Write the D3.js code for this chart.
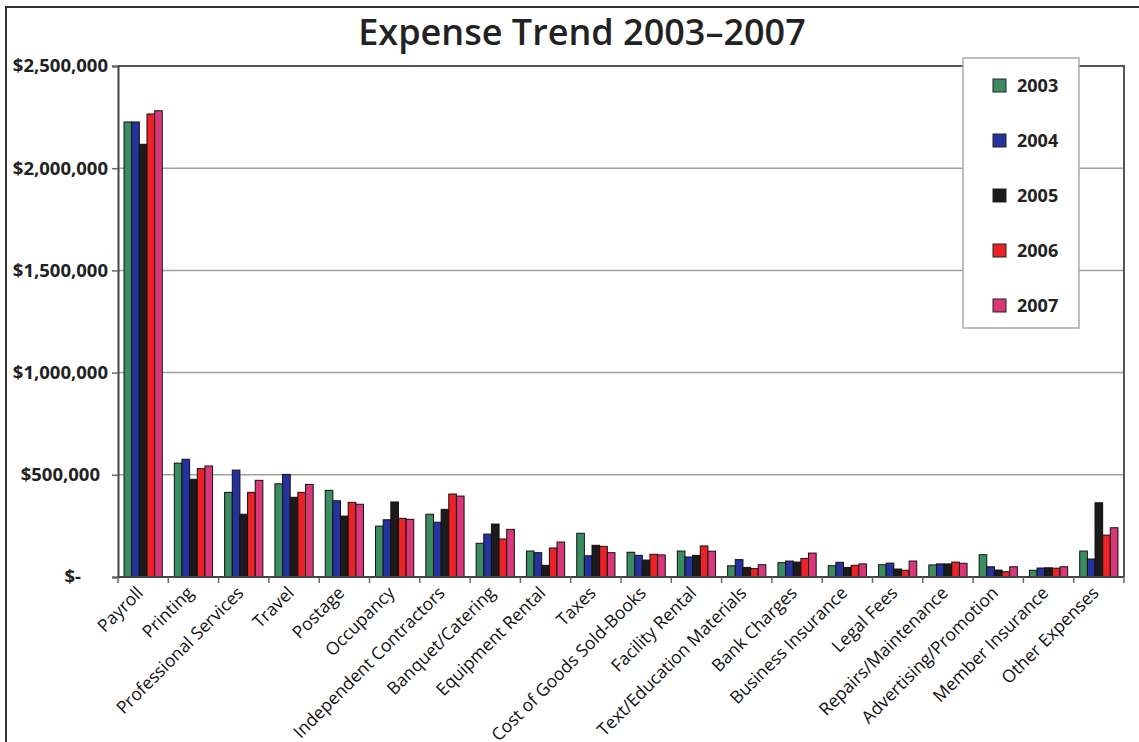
<!DOCTYPE html>
<html>
<head>
<meta charset="utf-8">
<script src="https://cdn.jsdelivr.net/npm/d3@7"></script>
<style>
  html, body { margin: 0; padding: 0; background: #fff; }
  svg { display: block; }
  .ytick { font-family: "Open Sans", sans-serif; font-weight: 700; font-size: 18.5px; fill: #222; }
  .xtick { font-family: "Open Sans", sans-serif; font-size: 17.5px; fill: #111; }
  .legend-text { font-family: "Open Sans", sans-serif; font-weight: 700; font-size: 18px; fill: #222; }
  .title { font-family: "Open Sans", sans-serif; font-weight: 600; font-size: 36px; fill: #222; }
</style>
</head>
<body>
<div id="chart"></div>
<script>
// Expense categories and yearly amounts (USD).
const categories = [
  'Payroll', 'Printing', 'Professional Services', 'Travel', 'Postage',
  'Occupancy', 'Independent Contractors', 'Banquet/Catering', 'Equipment Rental',
  'Taxes', 'Cost of Goods Sold-Books', 'Facility Rental', 'Text/Education Materials',
  'Bank Charges', 'Business Insurance', 'Legal Fees', 'Repairs/Maintenance',
  'Advertising/Promotion', 'Member Insurance', 'Other Expenses'
];
const years = ['2003', '2004', '2005', '2006', '2007'];

const y2003 = [2226000, 557000, 414000, 456000, 424000, 249000, 307000, 165000, 127000, 214000,
               121000, 127000, 55000, 70000, 55000, 60000, 59000, 109000, 33000, 127000];
const y2004 = [2226000, 576000, 523000, 502000, 373000, 280000, 268000, 210000, 119000, 104000,
               106000, 98000, 85000, 78000, 72000, 68000, 64000, 50000, 44000, 88000];
const y2005 = [2117000, 478000, 307000, 390000, 298000, 367000, 331000, 259000, 57000, 155000,
               83000, 106000, 47000, 73000, 47000, 39000, 64000, 34000, 45000, 363000];
const y2006 = [2265000, 530000, 414000, 414000, 365000, 287000, 406000, 186000, 142000, 150000,
               111000, 152000, 41000, 91000, 57000, 33000, 73000, 26000, 43000, 205000];
const y2007 = [2281000, 543000, 473000, 453000, 356000, 282000, 396000, 233000, 171000, 119000,
               108000, 126000, 60000, 117000, 64000, 78000, 67000, 50000, 50000, 241000];

const yTicks = [0, 500000, 1000000, 1500000, 2000000, 2500000];
const yTickLabels = ['$-', '$500,000', '$1,000,000', '$1,500,000', '$2,000,000', '$2,500,000'];

const seriesColors = ['#3c8c62', '#24339e', '#1c1a1a', '#ec2228', '#d8387a'];

const W = 1139, H = 742;
const margin = { top: 66, right: 15, bottom: 165, left: 118 };
const innerW = W - margin.left - margin.right;
const innerH = H - margin.top - margin.bottom;

const series = [y2003, y2004, y2005, y2006, y2007];
const rows = categories.map((c, i) => ({ cat: c, vals: series.map(s => s[i]) }));

const svg = d3.select('#chart').append('svg')
  .attr('width', W).attr('height', H);

// outer frame (only top + left edges are inside the crop)
svg.append('path')
  .attr('d', `M6,${H} L6,7 L${W},7`)
  .attr('fill', 'none').attr('stroke', '#333').attr('stroke-width', 2);

svg.append('text').attr('class', 'title')
  .attr('x', 582).attr('y', 45).attr('text-anchor', 'middle')
  .text('Expense Trend 2003–2007');

const g = svg.append('g').attr('transform', `translate(${margin.left},${margin.top})`);

const x0 = d3.scaleBand().domain(categories).range([0, innerW]).paddingInner(0.24).paddingOuter(0.12);
const x1 = d3.scaleBand().domain(years).range([0, x0.bandwidth()]);
const y = d3.scaleLinear().domain([0, 2500000]).range([innerH, 0]);

// gridlines
g.append('g').selectAll('line').data(yTicks.slice(1, -1)).join('line')
  .attr('x1', 0).attr('x2', innerW)
  .attr('y1', d => y(d)).attr('y2', d => y(d))
  .attr('stroke', '#a0a0a0').attr('stroke-width', 1.5);

// plot border top/right
g.append('path')
  .attr('d', `M0,0 L${innerW},0 L${innerW},${innerH}`)
  .attr('fill', 'none').attr('stroke', '#555').attr('stroke-width', 2);

// bars
const groups = g.append('g').selectAll('g').data(rows).join('g')
  .attr('transform', d => `translate(${x0(d.cat)},0)`);
groups.selectAll('rect').data(d => d.vals.map((v, k) => ({ year: years[k], v, k }))).join('rect')
  .attr('x', d => x1(d.year))
  .attr('y', d => y(d.v))
  .attr('width', x1.bandwidth())
  .attr('height', d => innerH - y(d.v))
  .attr('fill', d => seriesColors[d.k])
  .attr('stroke', '#111').attr('stroke-width', 1);

// y axis
const yAxis = g.append('g')
  .call(d3.axisLeft(y).tickValues(yTicks).tickSize(6).tickFormat(''));
yAxis.select('.domain').attr('stroke', '#444').attr('stroke-width', 2);
yAxis.selectAll('.tick line').attr('stroke', '#666').attr('stroke-width', 1.5);

// Excel accounting format pads short labels on the right
const labelPad = v => v === 0 ? 27 : (v === 500000 ? 8 : 0);
g.append('g').selectAll('text').data(yTicks).join('text')
  .attr('class', 'ytick')
  .attr('x', d => -10 - labelPad(d))
  .attr('y', d => y(d)).attr('dy', '0.35em')
  .attr('text-anchor', 'end')
  .text((d, i) => yTickLabels[i]);

// x axis with ticks at category boundaries
const boundaries = d3.range(categories.length + 1).map(i => i * innerW / categories.length);
const xAxisG = g.append('g').attr('transform', `translate(0,${innerH})`);
xAxisG.append('line').attr('x1', 0).attr('x2', innerW)
  .attr('stroke', '#444').attr('stroke-width', 2);
xAxisG.selectAll('line.tk').data(boundaries).join('line').attr('class', 'tk')
  .attr('x1', d => d).attr('x2', d => d).attr('y1', 0).attr('y2', 6)
  .attr('stroke', '#666').attr('stroke-width', 1.5);

xAxisG.selectAll('text').data(categories).join('text')
  .attr('class', 'xtick')
  .attr('text-anchor', 'end')
  .attr('transform', d => `translate(${x0(d) + x0.bandwidth() / 2 + 1},${17}) rotate(-45)`)
  .text(d => d);

// legend
const lg = svg.append('g').attr('transform', 'translate(963,58)');
lg.append('rect').attr('width', 116).attr('height', 270)
  .attr('fill', '#fff').attr('stroke', '#aaa').attr('stroke-width', 1.5);
const items = lg.selectAll('g.item').data(years).join('g').attr('class', 'item')
  .attr('transform', (d, i) => `translate(30,${28 + i * 55})`);
items.append('rect').attr('x', 0).attr('y', -7).attr('width', 13).attr('height', 13)
  .attr('fill', (d, i) => seriesColors[i]).attr('stroke', '#222').attr('stroke-width', 1);
items.append('text').attr('class', 'legend-text')
  .attr('x', 24).attr('dy', '0.35em').text(d => d);
</script>
</body>
</html>
